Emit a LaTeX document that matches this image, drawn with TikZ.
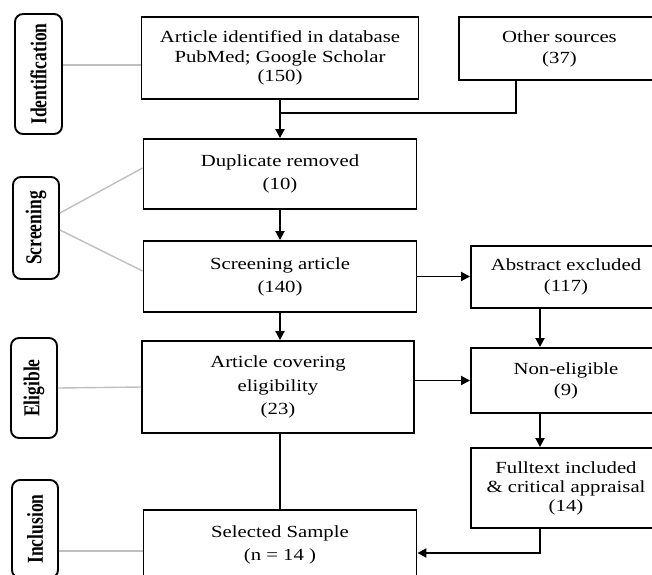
\documentclass[tikz,border=0pt]{standalone}
\usepackage{graphicx}
\usepackage{fontspec}
\setmainfont[FakeStretch=1.22]{Liberation Serif}
\newfontfamily\lblfont{Liberation Serif}
\usetikzlibrary{arrows.meta}
\newcommand{\lbltext}[1]{\rotatebox{90}{\scalebox{1}[1.3]{\lblfont\bfseries\fontsize{17.5}{20}\selectfont #1}}}
\begin{document}
\begin{tikzpicture}[x=1pt,y=-1pt,
  box/.style={draw, line width=1.9pt, inner sep=0pt, align=center},
  lsp/.style={font=\fontsize{17}{#1}\selectfont},
  lbl/.style={draw, line width=1.9pt, rounded corners=8pt, inner sep=0pt},
  gl/.style={draw=gray!50, line width=1.4pt},
  ln/.style={line width=1.9pt},
  ar/.style={line width=1.9pt, -{Triangle[length=9pt,width=9pt]}}
]
\useasboundingbox (0,0) rectangle (652,574);
\clip (0,0) rectangle (652,574);

% main boxes
\node[box, lsp=19.5, minimum width=277pt, minimum height=82pt] (A) at (280,58)
  {Article identified in database\\PubMed; Google Scholar\\(150)};
\node[box, lsp=21, minimum width=201pt, minimum height=63pt] (oth) at (559.5,48.5)
  {Other sources\\(37)};
\node[box, lsp=23, minimum width=273pt, minimum height=70pt] (dup) at (280,174)
  {Duplicate removed\\(10)};
\node[box, lsp=23, minimum width=273pt, minimum height=71pt] (scr) at (280,276.5)
  {Screening article\\(140)};
\node[box, lsp=21, minimum width=190pt, minimum height=62pt] (abs) at (566,277)
  {Abstract excluded\\(117)};
\node[box, lsp=23.5, minimum width=272pt, minimum height=92pt] (cov) at (278,387)
  {Article covering\\eligibility\\(23)};
\node[box, lsp=21, minimum width=190pt, minimum height=65pt] (nel) at (566,380.5)
  {Non-eligible\\(9)};
\node[box, lsp=19, minimum width=190pt, minimum height=80pt] (full) at (566,488)
  {Fulltext included\\\& critical appraisal\\(14)};
\node[box, lsp=23, minimum width=273pt, minimum height=70pt] (sel) at (280,545)
  {Selected Sample\\(n = 14 )};

% stage labels
\node[lbl, minimum width=47pt, minimum height=120pt] (lid) at (38.5,74) {\lbltext{Identification}};
\node[lbl, minimum width=46pt, minimum height=102pt] (lscr) at (36,228) {\lbltext{Screening}};
\node[lbl, minimum width=46pt, minimum height=100pt] (lel) at (34,388) {\lbltext{Eligible}};
\node[lbl, minimum width=46pt, minimum height=98pt] (linc) at (35,529) {\lbltext{Inclusion}};

% grey links
\draw[gl] ([yshift=9pt]lid.east) -- ([yshift=-7pt]A.west);
\draw[gl] ([yshift=15pt]lscr.east) -- ([yshift=6pt]dup.west);
\draw[gl] ([yshift=-2pt]lscr.east) -- ([yshift=5.5pt]scr.west);
\draw[gl] (lel.east) -- (cov.west);
\draw[gl] ([yshift=-22pt]linc.east) -- ([yshift=-6pt]sel.west);

% flow connectors
\coordinate (merge) at (A.south |- 0,113);
\draw[ln] ([xshift=-43.5pt]oth.south) |- (merge);
\draw[ar] (A.south) -- (dup.north);
\draw[ar] (dup.south) -- (scr.north);
\draw[ar] (scr.south) -- (scr.south |- cov.north);
\draw[ar] (scr.east) -- (scr.east -| abs.west);
\draw[ar] ([xshift=-26pt]abs.south) -- ([xshift=-26pt]nel.north);
\draw[ar] (cov.east |- nel.west) -- (nel.west);
\draw[ar] ([xshift=-26pt]nel.south) -- ([xshift=-26pt]full.north);
\draw[ln] (scr.south |- cov.south) -- (sel.north);
\draw[ar] ([xshift=-26pt]full.south) |- ([yshift=-8pt]sel.east);
\end{tikzpicture}
\end{document}
